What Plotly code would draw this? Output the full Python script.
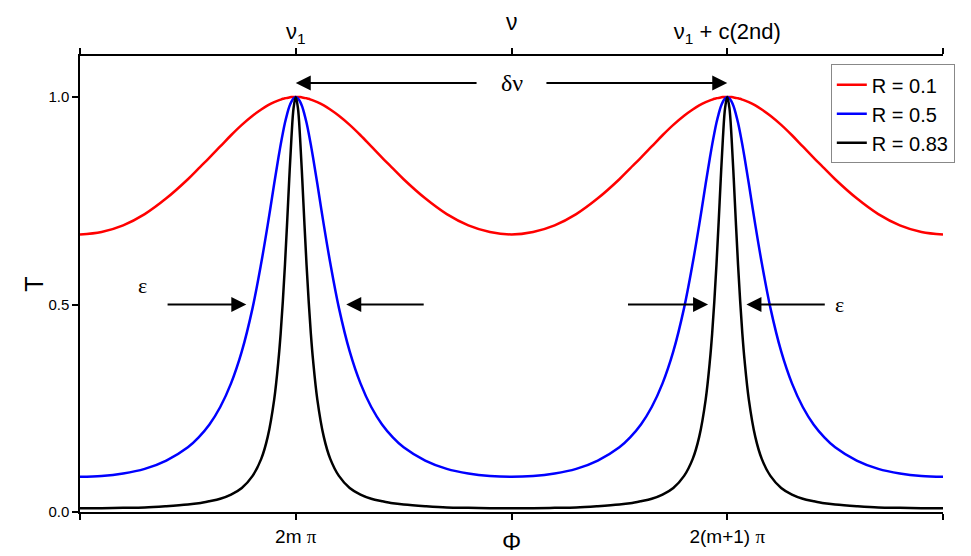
import plotly.graph_objects as go

# phase in units of pi, peaks at 2m*pi (0) and 2(m+1)*pi (2)
phi = [-1, -0.9, -0.8, -0.7, -0.6, -0.5, -0.45, -0.4, -0.35, -0.3, -0.25, -0.2, -0.16, -0.13, -0.1,
       -0.08, -0.07, -0.06, -0.05, -0.04, -0.03, -0.02, -0.01, 0,
       0.01, 0.02, 0.03, 0.04, 0.05, 0.06, 0.07, 0.08, 0.1, 0.13, 0.16, 0.2, 0.25, 0.3, 0.35,
       0.4, 0.45, 0.5, 0.6, 0.7, 0.8, 0.9, 1.0,
       1.1, 1.2, 1.3, 1.4, 1.5, 1.55, 1.6, 1.65, 1.7, 1.75, 1.8, 1.84, 1.87, 1.9, 1.92, 1.93, 1.94,
       1.95, 1.96, 1.97, 1.98, 1.99, 2,
       2.01, 2.02, 2.03, 2.04, 2.05, 2.06, 2.07, 2.08, 2.1, 2.13, 2.16, 2.2, 2.25, 2.3, 2.35,
       2.4, 2.45, 2.5, 2.6, 2.7, 2.8, 2.9, 3.0]

t_r01 = [0.669, 0.675, 0.691, 0.718, 0.756, 0.802, 0.828, 0.854, 0.881, 0.908, 0.933, 0.955, 0.970, 0.980, 0.988,
         0.992, 0.994, 0.996, 0.997, 0.998, 0.999, 1.0, 1.0, 1.0,
         1.0, 1.0, 0.999, 0.998, 0.997, 0.996, 0.994, 0.992, 0.988, 0.980, 0.970, 0.955, 0.933, 0.908, 0.881,
         0.854, 0.828, 0.802, 0.756, 0.718, 0.691, 0.675, 0.669,
         0.675, 0.691, 0.718, 0.756, 0.802, 0.828, 0.854, 0.881, 0.908, 0.933, 0.955, 0.970, 0.980, 0.988, 0.992, 0.994, 0.996,
         0.997, 0.998, 0.999, 1.0, 1.0, 1.0,
         1.0, 1.0, 0.999, 0.998, 0.997, 0.996, 0.994, 0.992, 0.988, 0.980, 0.970, 0.955, 0.933, 0.908, 0.881,
         0.854, 0.828, 0.802, 0.756, 0.718, 0.691, 0.675, 0.669]

t_r05 = [0.085, 0.087, 0.093, 0.104, 0.124, 0.156, 0.180, 0.211, 0.253, 0.310, 0.387, 0.492, 0.600, 0.692, 0.791,
         0.855, 0.885, 0.913, 0.938, 0.959, 0.977, 0.989, 0.997, 1.0,
         0.997, 0.989, 0.977, 0.959, 0.938, 0.913, 0.885, 0.855, 0.791, 0.692, 0.600, 0.492, 0.387, 0.310, 0.253,
         0.211, 0.180, 0.156, 0.124, 0.104, 0.093, 0.087, 0.085,
         0.087, 0.093, 0.104, 0.124, 0.156, 0.180, 0.211, 0.253, 0.310, 0.387, 0.492, 0.600, 0.692, 0.791, 0.855, 0.885, 0.913,
         0.938, 0.959, 0.977, 0.989, 0.997, 1.0,
         0.997, 0.989, 0.977, 0.959, 0.938, 0.913, 0.885, 0.855, 0.791, 0.692, 0.600, 0.492, 0.387, 0.310, 0.253,
         0.211, 0.180, 0.156, 0.124, 0.104, 0.093, 0.087, 0.085]

t_r083 = [0.009, 0.0092, 0.010, 0.011, 0.014, 0.018, 0.021, 0.026, 0.032, 0.042, 0.058, 0.087, 0.128, 0.181, 0.271,
          0.367, 0.430, 0.507, 0.596, 0.697, 0.804, 0.902, 0.974, 1.0,
          0.974, 0.902, 0.804, 0.697, 0.596, 0.507, 0.430, 0.367, 0.271, 0.181, 0.128, 0.087, 0.058, 0.042, 0.032,
          0.026, 0.021, 0.018, 0.014, 0.011, 0.010, 0.0092, 0.009,
          0.0092, 0.010, 0.011, 0.014, 0.018, 0.021, 0.026, 0.032, 0.042, 0.058, 0.087, 0.128, 0.181, 0.271, 0.367, 0.430, 0.507,
          0.596, 0.697, 0.804, 0.902, 0.974, 1.0,
          0.974, 0.902, 0.804, 0.697, 0.596, 0.507, 0.430, 0.367, 0.271, 0.181, 0.128, 0.087, 0.058, 0.042, 0.032,
          0.026, 0.021, 0.018, 0.014, 0.011, 0.010, 0.0092, 0.009]

series = [("R = 0.1", t_r01, "#ff0000"), ("R = 0.5", t_r05, "#0000ff"), ("R = 0.83", t_r083, "#000000")]

phi_ticks = [0, 2]
phi_labels = ["2m <span style='font-family:Liberation Serif'>π</span>",
              "2(m+1) <span style='font-family:Liberation Serif'>π</span>"]
nu_labels = ["ν<sub>1</sub>", "ν<sub>1</sub> + c(2nd)"]

SANS = "Arial, Liberation Sans, sans-serif"
SERIF = "Times New Roman, Liberation Serif, serif"

fig = go.Figure()
for name, t, color in series:
    fig.add_trace(go.Scatter(x=phi, y=t, name=name, mode="lines",
                             line=dict(color=color, width=2.5, shape="spline", smoothing=1.0)))

axis_common = dict(showline=True, linecolor="black", linewidth=1.5, showgrid=False, zeroline=False,
                   ticks="outside", ticklen=6, tickwidth=1.5, tickcolor="black", automargin=False)
minor_ticks = dict(tick0=-1, dtick=1, ticks="outside", ticklen=6, tickwidth=1.5, tickcolor="black",
                   showgrid=False)

# page body adds an 8px offset, so the figure is 8px smaller than the window
fig.update_layout(
    width=963, height=548,
    margin=dict(l=72, r=28, t=48, b=44),
    plot_bgcolor="white", paper_bgcolor="white",
    font=dict(family=SANS, color="black"),
    xaxis=dict(range=[-1, 3], tickvals=phi_ticks, ticktext=phi_labels, minor=minor_ticks,
               tickfont=dict(size=19), **axis_common),
    xaxis2=dict(range=[-1, 3], overlaying="x", side="top", anchor="y", tickvals=phi_ticks,
                ticktext=nu_labels, minor=minor_ticks, tickfont=dict(size=22), **axis_common),
    yaxis=dict(range=[0, 1.099], tickvals=[0, 0.5, 1.0], ticktext=["0.0", "0.5", "1.0"],
               tickfont=dict(size=15), **axis_common),
    legend=dict(x=0.870, y=0.982, xanchor="left", yanchor="top", bgcolor="white",
                bordercolor="#888888", borderwidth=1, font=dict(size=20), tracegroupgap=0),
)

# empty trace so the top axis is drawn
fig.add_trace(go.Scatter(x=[None], y=[None], xaxis="x2", showlegend=False, hoverinfo="skip"))

# axis titles
fig.add_annotation(x=0.5, y=-0.064, xref="paper", yref="paper", text="Φ", showarrow=False,
                   font=dict(size=24), yanchor="middle")
fig.add_annotation(x=0.5, y=1.074, xref="paper", yref="paper", text="ν", showarrow=False,
                   font=dict(size=23), yanchor="middle")
fig.add_annotation(x=-0.072, y=0.5, xref="paper", yref="paper", text="T", showarrow=False,
                   font=dict(size=25), textangle=-90)

arrows = [
    (0.845, 1.034, 0.0, 1.034),
    (1.155, 1.034, 2.0, 1.034),
    (-0.601, 0.5, -0.229, 0.5),
    (0.600, 0.5, 0.234, 0.5),
    (1.533, 0.5, 1.911, 0.5),
    (2.459, 0.5, 2.089, 0.5),
]
for x0, y0, x1, y1 in arrows:
    fig.add_annotation(x=x1, y=y1, ax=x0, ay=y0, xref="x", yref="y", axref="x", ayref="y",
                       showarrow=True, arrowhead=2, arrowsize=1.5, arrowwidth=2, arrowcolor="black",
                       text="")

labels = [("δν", 1.0, 1.034, 24), ("ε", -0.712, 0.547, 22), ("ε", 2.521, 0.5, 22)]
for txt, x, y, size in labels:
    fig.add_annotation(x=x, y=y, xref="x", yref="y", text=txt, showarrow=False,
                       font=dict(family=SERIF, size=size, color="black"))

fig.write_html("out.html")
